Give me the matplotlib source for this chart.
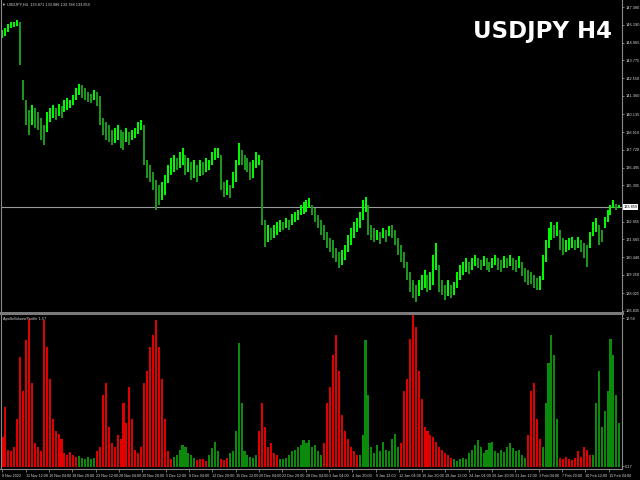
import numpy as np
import matplotlib
matplotlib.use('Agg')
import matplotlib.pyplot as plt
from matplotlib.lines import Line2D
from matplotlib.transforms import blended_transform_factory

# H4 bars (each point ~ two chart bars)
bar_high = [
    145.82, 145.96, 146.23, 146.37, 146.37, 146.50, 146.37, 142.44, 141.09, 140.41,
    140.75, 140.55, 140.28, 139.87, 139.40, 140.28, 140.55, 140.75, 140.55, 140.82,
    140.68, 141.09, 141.22, 141.09, 141.43, 141.90, 142.17, 142.10, 141.90, 141.63,
    141.49, 141.76, 141.63, 141.36, 139.87, 139.60, 139.40, 139.06, 139.19, 139.40,
    139.06, 138.92, 139.19, 138.92, 139.06, 139.19, 139.60, 139.73, 139.40, 137.03,
    136.69, 136.22, 135.68, 135.34, 135.54, 136.01, 136.69, 137.16, 137.37, 137.16,
    137.57, 137.84, 137.37, 137.16, 136.89, 137.03, 136.69, 137.03, 136.89, 137.16,
    137.03, 137.57, 137.84, 137.84, 137.37, 135.54, 135.68, 135.34, 136.22, 137.03,
    138.18, 137.70, 137.37, 137.16, 136.89, 137.03, 137.57, 137.37, 137.03, 132.97,
    132.63, 132.43, 132.63, 132.83, 132.97, 132.83, 133.10, 132.97, 133.37, 133.51,
    133.65, 133.98, 134.19, 134.32, 134.46, 133.98, 133.78, 133.31, 132.97, 132.63,
    132.16, 131.75, 131.62, 131.07, 130.80, 130.94, 131.28, 131.95, 132.43, 132.83,
    133.10, 133.51, 134.32, 134.53, 133.98, 132.63, 132.43, 132.29, 132.16, 132.43,
    132.29, 132.56, 132.63, 132.29, 131.75, 131.28, 130.80, 130.13, 129.45, 128.91,
    128.57, 128.91, 129.25, 129.59, 129.25, 129.45, 130.60, 131.41, 129.92, 128.91,
    128.57, 128.91, 128.57, 128.77, 129.45, 129.92, 130.13, 130.40, 130.13, 130.40,
    130.60, 130.40, 130.26, 130.53, 130.40, 130.13, 130.40, 130.60, 130.40, 130.26,
    130.53, 130.40, 130.60, 130.40, 130.26, 130.53, 130.13, 129.72, 129.59, 129.45,
    129.25, 129.04, 129.18, 130.60, 131.62, 132.43, 132.83, 132.63, 132.83, 132.29,
    131.75, 131.62, 131.75, 131.82, 131.62, 131.82, 131.62, 131.41, 131.28, 132.16,
    132.83, 133.10, 132.63, 132.29, 133.17, 133.65, 133.98, 134.32, 134.05, 133.99,
]
bar_low = [
    145.28, 145.42, 145.69, 145.96, 146.03, 146.09, 143.46, 141.09, 139.40, 138.72,
    139.40, 139.19, 139.06, 138.38, 138.04, 138.92, 139.60, 139.87, 139.73, 140.01,
    139.87, 140.28, 140.41, 140.55, 140.75, 141.09, 141.43, 141.22, 141.09, 140.95,
    140.89, 141.09, 140.68, 139.40, 138.72, 138.38, 138.25, 138.04, 138.18, 138.38,
    137.84, 137.70, 138.25, 138.04, 138.38, 138.52, 138.79, 139.06, 136.69, 135.81,
    135.54, 135.00, 133.65, 133.98, 134.32, 134.66, 135.47, 136.01, 136.22, 136.35,
    136.49, 136.69, 136.01, 136.22, 135.68, 135.81, 135.54, 135.95, 136.01, 136.22,
    136.35, 136.69, 137.03, 137.16, 135.00, 134.53, 134.66, 134.46, 135.13, 135.54,
    136.69, 136.69, 136.35, 136.22, 135.68, 135.81, 136.49, 136.69, 132.63, 131.14,
    131.48, 131.62, 131.75, 131.95, 132.16, 132.29, 132.43, 132.29, 132.63, 132.83,
    132.97, 133.31, 133.37, 133.51, 133.78, 133.31, 132.83, 132.43, 131.95, 131.62,
    131.07, 130.80, 130.40, 130.13, 129.72, 129.92, 130.26, 130.80, 131.28, 131.75,
    132.16, 132.43, 132.97, 133.51, 131.95, 131.62, 131.48, 131.62, 131.35, 131.75,
    131.48, 131.89, 131.75, 131.28, 130.60, 130.13, 129.72, 128.91, 128.10, 127.69,
    127.42, 127.83, 128.23, 128.37, 128.10, 128.23, 128.57, 129.59, 128.10, 127.89,
    127.56, 127.83, 127.69, 127.89, 128.37, 128.91, 129.25, 129.45, 129.32, 129.59,
    129.86, 129.72, 129.59, 129.86, 129.59, 129.45, 129.72, 129.92, 129.59, 129.45,
    129.72, 129.72, 129.86, 129.59, 129.45, 129.72, 129.18, 128.77, 128.57, 128.64,
    128.37, 128.23, 128.23, 128.91, 130.13, 131.07, 131.62, 131.75, 131.89, 130.94,
    130.60, 130.80, 130.94, 131.07, 130.94, 131.07, 130.80, 130.40, 129.79, 131.07,
    131.89, 132.16, 131.28, 131.48, 132.43, 132.83, 133.31, 133.78, 133.65, 133.79,
]

# ApolloVolumeProfile histogram
volume = [
    3.8, 7.5, 2.2, 2.0, 2.5, 6.0, 13.7, 9.5, 15.8, 18.5,
    10.5, 3.0, 2.5, 2.0, 18.3, 15.0, 11.0, 6.0, 4.5, 4.2,
    3.5, 1.8, 1.6, 1.9, 1.5, 1.3,
    1.4, 1.2, 1.1, 1.3, 1.0, 1.2,
    2.0, 2.5, 9.0, 10.5, 5.0, 3.0, 2.5, 4.0, 3.5, 8.0,
    5.5, 10.0, 6.0, 2.2, 1.8, 2.5, 10.5, 12.0, 15.0, 16.5,
    18.3, 15.0, 11.0, 6.0, 2.0, 1.0,
    1.3, 1.6, 2.2, 2.8, 2.5, 1.8, 1.5, 1.2,
    0.9, 1.1, 1.0, 0.8,
    1.5, 2.4, 3.2, 2.0,
    1.0, 0.9, 1.2,
    1.8, 2.0, 4.5, 15.5, 8.0, 2.0, 1.5, 1.3, 1.2, 1.5,
    4.5, 8.0, 5.0, 2.5, 3.0, 1.8, 1.5,
    1.0, 1.0, 1.2, 1.5, 2.0, 2.2, 2.5, 2.8, 3.4, 3.0, 3.4, 2.6, 2.8, 2.0, 1.5,
    3.0, 8.0, 10.0, 14.0, 16.5, 12.0, 6.5, 4.5, 3.5, 2.5, 2.0, 1.5,
    1.5, 4.0, 15.8, 9.0, 2.5, 1.8, 2.8, 2.0, 3.2, 2.2, 2.0, 3.5, 4.2, 2.5,
    3.0, 9.5, 11.0, 16.0, 19.0, 17.5, 12.0, 8.5, 5.0, 4.5, 4.0, 3.8, 3.2, 2.5, 2.2, 1.8, 1.5, 1.2,
    1.0, 0.8, 1.0, 1.2, 1.0, 1.8, 2.2, 2.8, 3.4, 2.6, 1.8, 2.2, 3.0, 3.2, 2.0,
    1.8, 2.2, 1.9, 2.6, 3.0, 2.4, 2.0, 2.2, 1.5, 1.2,
    4.0, 9.5, 10.5, 6.0, 3.5,
    2.5, 8.0, 13.0, 16.5, 14.0, 6.0,
    1.2, 1.0, 1.3, 1.0, 0.9, 1.2, 2.0, 1.3, 2.5, 2.2, 1.5,
    1.5, 8.0, 12.0, 5.0, 7.0, 9.5, 16.0, 14.0, 9.0, 5.5,
]
# runs of sell (R) / buy (G) volume
volume_runs = [('R', 26), ('G', 6), ('R', 26), ('G', 8), ('R', 4), ('G', 4), ('R', 3),
               ('G', 10), ('R', 7), ('G', 15), ('R', 12), ('G', 14), ('R', 18),
               ('G', 25), ('R', 5), ('G', 6), ('R', 11), ('G', 10)]

price_ticks = [147.380, 146.190, 144.965, 143.775, 142.550, 141.360, 140.135, 138.910,
               137.720, 136.495, 135.305, 132.855, 131.665, 130.440, 129.250, 128.025, 126.835]
last_price = 133.859
date_labels = ['8 Nov 2022', '11 Nov 12:00', '16 Nov 04:00', '18 Nov 20:00', '23 Nov 12:00',
               '28 Nov 04:00', '30 Nov 20:00', '5 Dec 12:00', '8 Dec 04:00', '12 Dec 20:00',
               '15 Dec 12:00', '20 Dec 04:00', '22 Dec 20:00', '28 Dec 04:00', '3 Jan 04:00',
               '4 Jan 20:00', '9 Jan 12:00', '12 Jan 04:00', '16 Jan 20:00', '19 Jan 12:00',
               '24 Jan 04:00', '26 Jan 20:00', '31 Jan 12:00', '3 Feb 04:00', '7 Feb 20:00',
               '10 Feb 12:00', '15 Feb 04:00']
vol_max, vol_min = 18.59, 0.17

W, H = 640, 480
GRAY = '#8a8a8a'
TXT = '#d8d8d8'
small = ['Liberation Sans', 'DejaVu Sans']
LBL = 2.8


def box(x0, y0, x1, y1):
    return [x0 / W, 1 - y1 / H, (x1 - x0) / W, (y1 - y0) / H]


def hline(x0, x1, y, lw, c=GRAY):
    fig.add_artist(Line2D([x0 / W, x1 / W], [1 - y / H, 1 - y / H],
                          transform=fig.transFigure, color=c, lw=lw))


def vline(x, y0, y1, lw, c=GRAY):
    fig.add_artist(Line2D([x / W, x / W], [1 - y0 / H, 1 - y1 / H],
                          transform=fig.transFigure, color=c, lw=lw))


fig = plt.figure(figsize=(6.4, 4.8), dpi=100, facecolor='black')
axp = fig.add_axes(box(1, 0, 622, 311))
axv = fig.add_axes(box(1, 315, 622, 469))

hi = np.array(bar_high)
lo = np.array(bar_low)
x = np.arange(len(hi))
mid = (hi + lo) / 2
rising = np.r_[True, mid[1:] >= mid[:-1]]
bar_cols = np.where(rising, '#00ff00', '#1c9a1c')

for ax in (axp, axv):
    ax.set_facecolor('black')
    for s in ax.spines.values():
        s.set_visible(False)
    ax.set_xlim(-0.5, len(hi) - 0.1)

# price panel
axp.axhline(last_price, color='#9a9a9a', lw=0.8, zorder=1)
axp.vlines(x, lo, hi, colors=bar_cols, lw=1.4, zorder=2)
axp.set_ylim(126.81, 147.854)
axp.set_xticks([])
axp.yaxis.tick_right()
axp.set_yticks(price_ticks)
axp.set_yticklabels(['%.3f' % p for p in price_ticks])
axp.tick_params(axis='y', colors=GRAY, labelcolor=TXT, length=1.5, width=0.6,
                pad=0.8, labelsize=LBL)
for t in axp.get_yticklabels():
    t.set_family(small)
tr = blended_transform_factory(axp.transAxes, axp.transData)
axp.text(1.002, last_price, '%.3f' % last_price, transform=tr, ha='left', va='center',
         fontsize=LBL, family=small, color='black', clip_on=False, zorder=5,
         bbox=dict(facecolor='white', edgecolor='none', pad=0.9))

# volume panel
vol_cols = []
for side, n in volume_runs:
    vol_cols += ['#e00000' if side == 'R' else '#0b8a0b'] * n
axv.bar(x, volume, width=0.7, color=vol_cols, linewidth=0)
axv.set_ylim(-0.2, 18.97)
axv.yaxis.tick_right()
axv.set_yticks([vol_max, vol_min])
axv.set_yticklabels(['%.2f' % vol_max, '%.2f' % vol_min])
axv.tick_params(axis='y', colors=GRAY, labelcolor=TXT, length=1.5, width=0.6,
                pad=0.8, labelsize=LBL)
axv.set_xticks(np.arange(len(date_labels)) * 7.9)
axv.set_xticklabels(date_labels)
axv.tick_params(axis='x', colors=GRAY, labelcolor=TXT, length=2.5, width=0.6,
                pad=1, labelsize=2.7)
for t in axv.get_xticklabels() + axv.get_yticklabels():
    t.set_family(small)
for t in axv.get_xticklabels():
    t.set_ha('left')

# window borders
vline(622, 0, 469, 0.8)
vline(0.5, 0, 469, 0.8)
hline(0, 622, 469, 0.8)
hline(0, 622, 313, 2.2, '#7a7a7a')

fig.text(2 / W, 1 - 5 / H, '\u25bc USDJPY,H4  133.871 133.986 133.788 133.859',
         fontsize=LBL, family=small, color=TXT, va='center')
fig.text(3 / W, 1 - 319 / H, 'ApolloVolumeProfile 1.57', fontsize=LBL, family=small,
         color=TXT, va='center')
fig.text(612 / W, 1 - 38 / H, 'USDJPY H4', ha='right', va='baseline', fontsize=16.5,
         fontweight='bold', color='white', family='DejaVu Sans')

fig.savefig('out.png', dpi=100, facecolor='black')
